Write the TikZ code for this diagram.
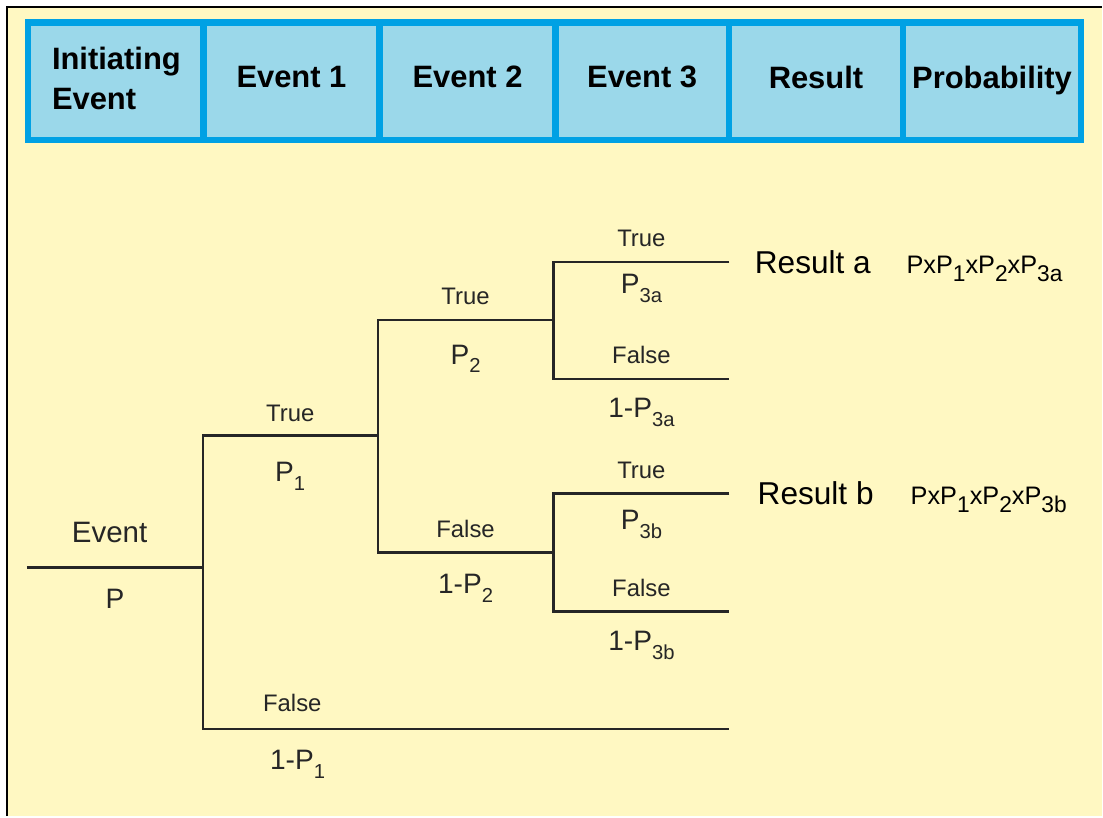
\documentclass[tikz,border=0pt]{standalone}
\usepackage{fontspec}
\setmainfont{Liberation Sans}
\usepackage{graphicx}
\usepackage{xcolor}
\definecolor{papel}{RGB}{255,248,194}
\definecolor{marco}{RGB}{0,161,228}
\definecolor{celda}{RGB}{155,216,234}
\definecolor{tinta}{RGB}{38,38,38}
\usetikzlibrary{positioning}
% lowered, shrunken index (P_1, P_3a ...)
\newcommand{\bajo}[2][0.72]{\raisebox{-0.6ex}{\scalebox{#1}{#2}}}

\begin{document}
\begin{tikzpicture}[x=0.025cm,y=-0.025cm,
    rama/.style={tinta,line width=1.6pt},
    cab/.style={font=\fontsize{22pt}{28pt}\selectfont\bfseries,inner sep=0pt},
    si/.style={above=#1,font=\fontsize{17pt}{20pt}\selectfont,inner sep=0pt,tinta},
    si/.default=10pt,
    prob/.style={below=#1,font=\fontsize{20pt}{23pt}\selectfont,inner sep=0pt,tinta},
    prob/.default=13pt,
    res/.style={font=\fontsize{22.5pt}{26pt}\selectfont,inner sep=0pt},
    form/.style={font=\fontsize{18pt}{21pt}\selectfont,inner sep=0pt}]
    % page and frame
    \fill[white] (0,0) rectangle (1103,817);
    \fill[papel] (7,7) rectangle (1103,817);
    \draw[black,line width=1.5pt] (7,817) -- (7,7) -- (1103,7);
    \useasboundingbox (0,0) rectangle (1103,817);
    % header row
    \draw[marco,line width=4.6pt,fill=celda] (28,22.5) rectangle (1082,140);
    \foreach \x in {203.5,380,556,729.5,904}
      \draw[marco,line width=4.6pt] (\x,22.5) -- (\x,140);
    \node[cab,align=left] (hIni) at (116.5,78.5) {Initiating\\Event};
    \node[cab,anchor=base] (hE1) at (291.75,88) {Event 1};
    \node[cab,anchor=base] (hE2) at (468,88) {Event 2};
    \node[cab,anchor=base] (hE3) at (642.75,88) {Event 3};
    \node[cab,anchor=base] (hRes) at (816.75,89) {Result};
    \node[cab,anchor=base] (hProb) at (993,89) {Probability};
    % branch points
    \coordinate (ini) at (27,568);
    \coordinate (n1) at (203,568);
    \coordinate (n1s) at (203,436);
    \coordinate (n1n) at (203,730);
    \coordinate (fin1) at (730,730);
    \coordinate (n2) at (378,436);
    \coordinate (n2s) at (378,320);
    \coordinate (n2n) at (378,553);
    \coordinate (n3a) at (554,320);
    \coordinate (n3as) at (554,262);
    \coordinate (n3an) at (554,379);
    \coordinate (ra) at (730,262);
    \coordinate (fa) at (730,379);
    \coordinate (n3b) at (554,553);
    \coordinate (n3bs) at (554,494);
    \coordinate (n3bn) at (554,612);
    \coordinate (rb) at (730,494);
    \coordinate (fb) at (730,612);
    % tree
    \draw[rama] (ini) -- node[si=17pt,pos=0.47,font=\fontsize{21pt}{24pt}\selectfont] {Event}
      node[prob=15pt] {P} (n1);
    \draw[rama] (n2) -- node[si=9pt] {True} node[prob=18pt] {P\bajo{1}} (n1s)
      -- (n1n) -- node[si=12pt,pos=0.17] {False} node[prob=14pt,pos=0.18] {1-P\bajo{1}} (fin1);
    \draw[rama] (n3a) -- node[si] {True} node[prob=17pt] {P\bajo{2}} (n2s)
      -- (n2n) -- node[si] {False} node[prob=15pt] {1-P\bajo{2}} (n3b);
    \draw[rama] (ra) -- node[si] {True} node[prob=8pt] {P\bajo{3a}} (n3as)
      -- (n3an) -- node[si] {False} node[prob] {1-P\bajo{3a}} (fa);
    \draw[rama] (rb) -- node[si] {True} node[prob=11pt] {P\bajo{3b}} (n3bs)
      -- (n3bn) -- node[si] {False} node[prob] {1-P\bajo{3b}} (fb);
    % outcomes
    \node[res,right=18pt of ra] (resA) {Result a};
    \node[form,base right=25pt of resA] (probA)
      {PxP\bajo[0.9]{1}xP\bajo[0.9]{2}xP\bajo[0.9]{3a}};
    \node[res,right=20pt of rb] (resB) {Result b};
    \node[form,base right=26pt of resB] (probB)
      {PxP\bajo[0.9]{1}xP\bajo[0.9]{2}xP\bajo[0.9]{3b}};
\end{tikzpicture}
\end{document}
